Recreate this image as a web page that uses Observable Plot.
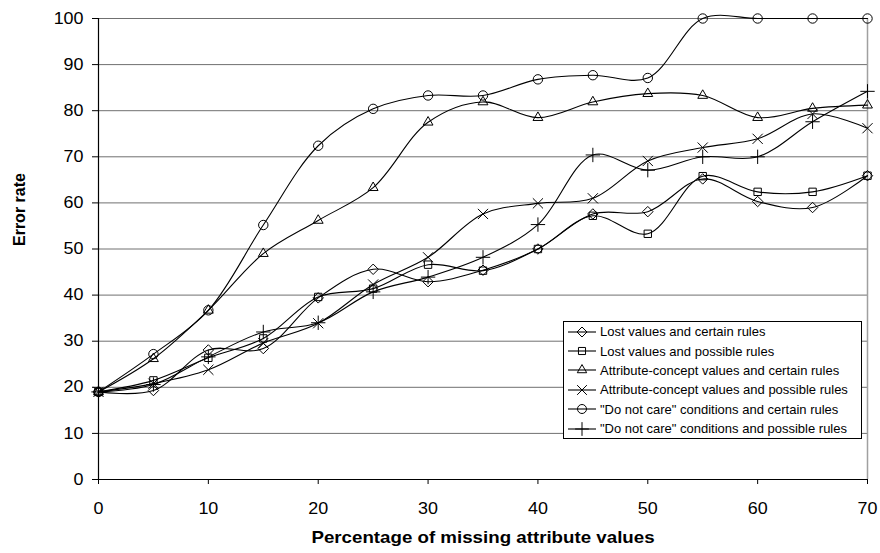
<!DOCTYPE html>
<html>
<head>
<meta charset="utf-8">
<script src="https://cdn.jsdelivr.net/npm/d3@7"></script>
<script src="https://cdn.jsdelivr.net/npm/@observablehq/plot@0.6"></script>
<style>
  html, body { margin: 0; padding: 0; background: #fff; }
  #wrap { position: relative; width: 880px; height: 553px; font-family: "Liberation Sans", Arial, sans-serif; }
  #legend { position: absolute; left: 563px; top: 321px; width: 297px; height: 116px; border: 1px solid #000; background: #fff; font-size: 13px; }
  #legend .row { display: flex; align-items: center; height: 19.4px; }
  #legend svg { display: block; flex: none; }
</style>
</head>
<body>
<div id="wrap"></div>
<script>
const percents = [0, 5, 10, 15, 20, 25, 30, 35, 40, 45, 50, 55, 60, 65, 70];
const seriesNames = [
  "Lost values and certain rules",
  "Lost values and possible rules",
  "Attribute-concept values and certain rules",
  "Attribute-concept values and possible rules",
  "\"Do not care\" conditions and certain rules",
  "\"Do not care\" conditions and possible rules"
];
const lostCertain   = [19, 19.3, 28.1, 28.4, 39.4, 45.6, 42.9, 45.4, 50, 57.6, 58.1, 65.2, 60.3, 59.0, 65.9];
const lostPossible  = [19, 21.5, 26.4, 30.6, 39.6, 41.4, 46.6, 45.3, 50, 57.2, 53.3, 65.8, 62.4, 62.4, 65.9];
const attrCertain   = [19, 26.2, 36.7, 49.0, 56.2, 63.3, 77.5, 81.9, 78.5, 81.9, 83.7, 83.3, 78.5, 80.5, 81.2];
const attrPossible  = [19, 20.8, 23.8, 29.6, 33.9, 42.3, 48.2, 57.6, 59.9, 61.0, 69.1, 72.0, 73.9, 79.3, 76.2];
const dncCertain    = [19, 27.2, 36.7, 55.2, 72.4, 80.4, 83.3, 83.3, 86.8, 87.7, 87.1, 100, 100, 100, 100];
const dncPossible   = [19, 20.6, 26.6, 32.0, 34.0, 40.7, 43.9, 48.2, 55.3, 70.4, 67.1, 70.0, 70.0, 77.6, 84.2];
const seriesValues = [lostCertain, lostPossible, attrCertain, attrPossible, dncCertain, dncPossible];
const symbolNames = ["diamond2", "square2", "triangle2", "times", "circle", "plus"];
const yTicks = [0, 10, 20, 30, 40, 50, 60, 70, 80, 90, 100];
const xTicks = [0, 10, 20, 30, 40, 50, 60, 70];
const xTitle = "Percentage of missing attribute values";
const yTitle = "Error rate";

const data = [];
seriesNames.forEach((name, i) => {
  percents.forEach((p, j) => data.push({series: name, x: p, y: seriesValues[i][j]}));
});

const chart = Plot.plot({
  width: 880,
  height: 553,
  marginLeft: 98,
  marginRight: 13,
  marginTop: 18,
  marginBottom: 74,
  style: {fontFamily: "'Liberation Sans', Arial, sans-serif", fontSize: "16px", color: "#000", background: "#fff"},
  x: {domain: [0, 70]},
  y: {domain: [0, 100]},
  symbol: {domain: seriesNames, range: symbolNames},
  marks: [
    Plot.ruleY(yTicks.filter(d => d > 0), {stroke: "#707070", strokeWidth: 1}),
    Plot.ruleX([70], {stroke: "#a0a0a0", strokeWidth: 1.5}),
    Plot.axisY({ticks: yTicks, tickSize: 6, tickPadding: 9, label: null, fontSize: 16, stroke: "#000"}),
    Plot.axisX({ticks: xTicks, tickSize: 5, tickPadding: 18, label: null, fontSize: 16, stroke: "#000"}),
    Plot.ruleY([0], {stroke: "#000", strokeWidth: 1.2}),
    Plot.ruleX([0], {stroke: "#000", strokeWidth: 1.2}),
    Plot.line(data, {x: "x", y: "y", z: "series", curve: "catmull-rom", stroke: "#000", strokeWidth: 1.1}),
    Plot.dot(data, {x: "x", y: "y", symbol: "series", stroke: "#000", fill: "none", r: 4.7, strokeWidth: 1}),
    Plot.text([yTitle], {frameAnchor: "left", dx: -79, dy: -3, rotate: -90, fontWeight: "bold", fontSize: 16, lineAnchor: "middle"}),
    Plot.text([xTitle], {frameAnchor: "bottom", dy: 58, fontWeight: "bold", fontSize: 16, lineAnchor: "middle"})
  ]
});

// Widen horizontal texts slightly (the reference's font is a bit wider than Liberation Sans)
function widenEls(els, k) {
  els.forEach(t => {
    const tr = t.getAttribute("transform") || "";
    t.setAttribute("transform", (tr + ` scale(${k},1)`).trim());
  });
}
widenEls(chart.querySelectorAll('g[aria-label="y-axis tick label"] text'), 1.12);
widenEls(chart.querySelectorAll('g[aria-label="x-axis tick label"] text'), 1.12);
widenEls(Array.from(chart.querySelectorAll("text")).filter(t => t.textContent === xTitle), 1.17);

const wrap = document.getElementById("wrap");
wrap.appendChild(chart);

// Legend overlay
const legend = document.createElement("div");
legend.id = "legend";
const symMap = {diamond2: d3.symbolDiamond2, square2: d3.symbolSquare2, triangle2: d3.symbolTriangle2, times: d3.symbolTimes, circle: d3.symbolCircle, plus: d3.symbolPlus};
seriesNames.forEach((name, i) => {
  const row = document.createElement("div");
  row.className = "row";
  const svg = d3.create("svg").attr("width", 36).attr("height", 18);
  svg.append("line").attr("x1", 4).attr("x2", 32).attr("y1", 9).attr("y2", 9).attr("stroke", "#000").attr("stroke-width", 1.1);
  svg.append("path").attr("transform", "translate(18,9)")
    .attr("d", d3.symbol(symMap[symbolNames[i]], Math.PI * 4.5 * 4.5)())
    .attr("fill", "none").attr("stroke", "#000");
  row.appendChild(svg.node());
  const span = document.createElement("span");
  span.textContent = name;
  row.appendChild(span);
  legend.appendChild(row);
});
wrap.appendChild(legend);
</script>
</body>
</html>
